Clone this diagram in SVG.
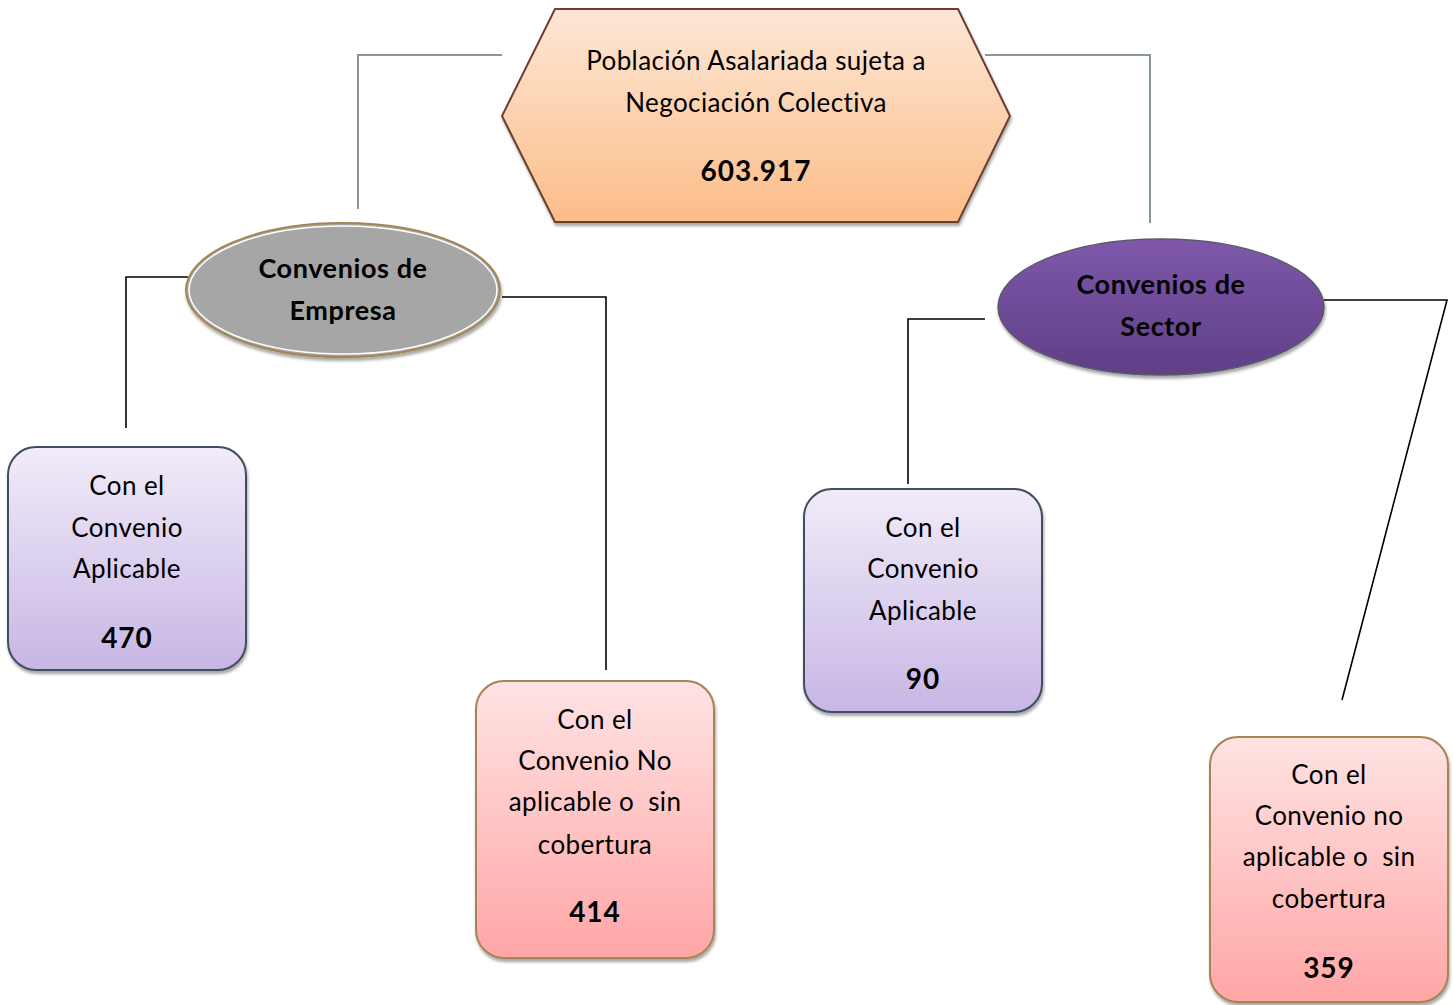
<svg xmlns="http://www.w3.org/2000/svg" width="1454" height="1005" viewBox="0 0 1454 1005">
<defs>
<linearGradient id="gHex" x1="0" y1="0" x2="0" y2="1"><stop offset="0" stop-color="#fde7d6"/><stop offset="1" stop-color="#fbbd88"/></linearGradient>
<linearGradient id="gLav" x1="0" y1="0" x2="0" y2="1"><stop offset="0" stop-color="#f1ecf9"/><stop offset="1" stop-color="#c8b6e5"/></linearGradient>
<linearGradient id="gPink" x1="0" y1="0" x2="0" y2="1"><stop offset="0" stop-color="#ffe3e3"/><stop offset="1" stop-color="#ffa6a6"/></linearGradient>
<linearGradient id="gPur" x1="0" y1="0" x2="0" y2="1"><stop offset="0" stop-color="#7f58ab"/><stop offset="1" stop-color="#5f3f86"/></linearGradient>
<filter id="sh" x="-10%" y="-10%" width="120%" height="130%"><feDropShadow dx="1" dy="3" stdDeviation="1.5" flood-color="#000" flood-opacity="0.35"/></filter>
</defs>
<style>
text{font-family:Lato,"Open Sans","Liberation Sans",sans-serif;font-size:26px;fill:#000;text-anchor:middle;letter-spacing:0.4px}
.b{font-weight:bold;font-size:27px;letter-spacing:0.6px}
.n{font-weight:bold;font-size:28px;letter-spacing:1px}
.gl{fill:none;stroke:#8a9a8a;stroke-width:2}
.bl{fill:none;stroke:#000;stroke-width:1.6}
.lav{fill:url(#gLav);stroke:#3f4f5f;stroke-width:2;filter:url(#sh)}
.pink{fill:url(#gPink);stroke:#a58456;stroke-width:2;filter:url(#sh)}
</style>
<g id="connectors">
<polyline class="gl" points="502,55 358,55 358,209"/>
<polyline class="gl" points="985,55 1150,55 1150,223"/>
<polyline class="bl" points="188,277 126,277 126,428"/>
<polyline class="bl" points="502,297 606,297 606,670"/>
<polyline class="bl" points="985,319 908,319 908,484"/>
<polyline class="bl" points="1324,300 1447,300 1342,700"/>
</g>
<g id="root">
<polygon points="555,9 958,9 1010,116 958,222 555,222 502,116" fill="url(#gHex)" stroke="#6d3d2e" stroke-width="2" filter="url(#sh)"/>
<text x="756" y="70">Población Asalariada sujeta a</text>
<text x="756" y="112">Negociación Colectiva</text>
<text class="n" x="756" y="181">603.917</text>
</g>
<g id="empresa">
<ellipse cx="343" cy="290" rx="157" ry="67" fill="#a6a6a6" stroke="#a58456" stroke-width="2" filter="url(#sh)"/>
<ellipse cx="343" cy="290" rx="154" ry="64" fill="none" stroke="#fff" stroke-width="1.5"/>
<text class="b" x="343" y="278">Convenios de</text>
<text class="b" x="343" y="320">Empresa</text>
</g>
<g id="sector">
<ellipse cx="1161" cy="307" rx="163" ry="68" fill="url(#gPur)" stroke="#5a5a6a" stroke-width="1.5" filter="url(#sh)"/>
<text class="b" x="1161" y="294">Convenios de</text>
<text class="b" x="1161" y="336">Sector</text>
</g>
<g id="empresa-aplicable">
<rect class="lav" x="8" y="447" width="238" height="223" rx="28"/>
<text x="127" y="495">Con el</text>
<text x="127" y="537">Convenio</text>
<text x="127" y="578">Aplicable</text>
<text class="n" x="127" y="648">470</text>
</g>
<g id="empresa-noaplicable">
<rect class="pink" x="476" y="681" width="238" height="277" rx="28"/>
<text x="595" y="729">Con el</text>
<text x="595" y="770">Convenio No</text>
<text x="595" y="811" xml:space="preserve">aplicable o  sin</text>
<text x="595" y="854">cobertura</text>
<text class="n" x="595" y="922">414</text>
</g>
<g id="sector-aplicable">
<rect class="lav" x="804" y="489" width="238" height="223" rx="28"/>
<text x="923" y="537">Con el</text>
<text x="923" y="578">Convenio</text>
<text x="923" y="620">Aplicable</text>
<text class="n" x="923" y="689">90</text>
</g>
<g id="sector-noaplicable">
<rect class="pink" x="1210" y="737" width="238" height="265" rx="28"/>
<text x="1329" y="784">Con el</text>
<text x="1329" y="825">Convenio no</text>
<text x="1329" y="866" xml:space="preserve">aplicable o  sin</text>
<text x="1329" y="908">cobertura</text>
<text class="n" x="1329" y="978">359</text>
</g>
</svg>
